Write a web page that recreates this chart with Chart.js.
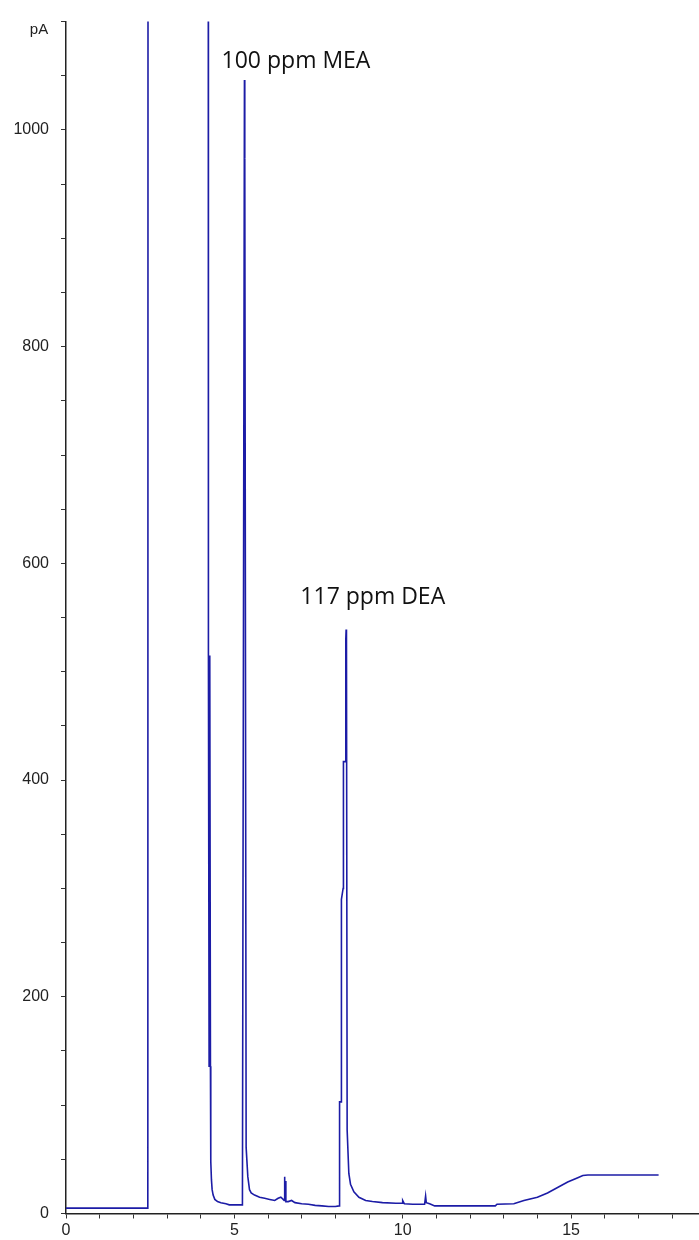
<!DOCTYPE html>
<html>
<head>
<meta charset="utf-8">
<script src="https://cdn.jsdelivr.net/npm/chart.js@4"></script>
<style>
  html, body { margin: 0; padding: 0; background: #fff; }
  #wrap { width: 699px; height: 1240px; }
</style>
</head>
<body>
<div id="wrap"><canvas id="gcChart"></canvas></div>
<script>
// retention time (min) and detector signal (pA)
const timeMin = [
  0, 2.43, 2.44, 4.22, 4.23, 4.25, 4.27, 4.29, 4.30, 4.32, 4.34, 4.37, 4.42, 4.50, 4.60, 4.75, 4.85,
  5.24, 5.25, 5.30, 5.31, 5.35, 5.40, 5.45, 5.50, 5.60, 5.75, 5.90, 6.05, 6.20, 6.30, 6.38, 6.45,
  6.48, 6.49, 6.50, 6.52, 6.53, 6.60, 6.70, 6.80, 7.00, 7.20, 7.40, 7.60, 7.80, 8.00, 8.11,
  8.12, 8.13, 8.17, 8.18, 8.23, 8.24, 8.30, 8.31, 8.32, 8.33, 8.35, 8.40, 8.45, 8.55, 8.70, 8.90,
  9.10, 9.40, 9.80, 9.98, 10.00, 10.05, 10.30, 10.65, 10.68, 10.70, 10.80, 10.95, 11.50, 12.00,
  12.75, 12.80, 13.30, 13.60, 14.00, 14.30, 14.60, 14.90, 15.20, 15.35, 15.50, 17.60
];
const signalPA = [
  5, 5, 2000, 2000, 515, 136, 515, 136, 48, 31, 22, 17, 13, 11, 10, 9, 8,
  8, 8, 1046, 974, 61, 34, 22, 19, 17, 15, 14, 13, 12, 14, 15, 13,
  12, 34, 12, 30, 11, 11, 12, 10, 9, 8.5, 7.5, 7, 6.5, 6.5, 7,
  7, 103, 103, 290, 300, 417, 417, 530, 539, 530, 77, 37, 27, 20, 15, 12,
  11, 10, 9.5, 9.5, 12, 9, 8.5, 8.5, 16, 10, 9, 7, 7, 7,
  7, 8.5, 9, 12, 15, 19, 24, 29, 33, 35, 35.5, 35.5
];
const xTickLabels = [0, 5, 10, 15];
const yTickLabels = [0, 200, 400, 600, 800, 1000];
const peakNames = ['100 ppm MEA', '117 ppm DEA'];
const yUnit = 'pA';

const points = timeMin.map((t, i) => ({ x: t, y: signalPA[i] }));

// where the peak names sit (data coords of the text's left/middle)
const labelAnchors = [{ x: 4.62, y: 1063 }, { x: 6.96, y: 569 }];

const textPlugin = {
  id: 'peakText',
  afterDatasetsDraw(chart) {
    const c = chart.ctx, xs = chart.scales.x, ys = chart.scales.y;
    c.save();
    c.fillStyle = '#111';
    c.font = '23px "Open Sans", "Noto Sans", sans-serif';
    c.textAlign = 'left';
    c.textBaseline = 'middle';
    peakNames.forEach((name, i) => {
      c.fillText(name, xs.getPixelForValue(labelAnchors[i].x), ys.getPixelForValue(labelAnchors[i].y));
    });
    c.font = '15px "Liberation Sans", Arial, sans-serif';
    c.fillStyle = '#222';
    c.textAlign = 'center';
    c.fillText(yUnit, 39, 30);
    c.restore();
  }
};

new Chart(document.getElementById('gcChart'), {
  type: 'line',
  data: {
    datasets: [{
      data: points,
      borderColor: '#1c1ca6',
      borderWidth: 1.6,
      pointRadius: 0,
      tension: 0,
      fill: false
    }]
  },
  options: {
    responsive: true,
    maintainAspectRatio: false,
    animation: false,
    events: [],
    layout: { padding: { top: 15, right: 0, left: 0, bottom: 0 } },
    plugins: { legend: { display: false }, tooltip: { enabled: false } },
    scales: {
      x: {
        type: 'linear',
        min: 0,
        max: 18.8,
        afterFit: s => { s.height = 26.5; },
        border: { color: '#222', width: 1.5 },
        grid: { drawOnChartArea: false, tickLength: 5, color: '#333' },
        ticks: {
          stepSize: 1,
          includeBounds: false,
          autoSkip: false,
          maxRotation: 0,
          padding: 2,
          color: '#222',
          font: { family: '"Liberation Sans", Arial, sans-serif', size: 16 },
          callback: v => xTickLabels.includes(v) ? String(v) : ''
        }
      },
      y: {
        min: 0,
        max: 1100,
        afterFit: s => { s.width = 66; },
        border: { color: '#222', width: 1.5 },
        grid: { drawOnChartArea: false, tickLength: 5, color: '#333' },
        ticks: {
          stepSize: 50,
          autoSkip: false,
          padding: 12,
          color: '#222',
          font: { family: '"Liberation Sans", Arial, sans-serif', size: 16 },
          callback: v => yTickLabels.includes(v) ? String(v) : ''
        }
      }
    }
  },
  plugins: [textPlugin]
});
</script>
</body>
</html>
